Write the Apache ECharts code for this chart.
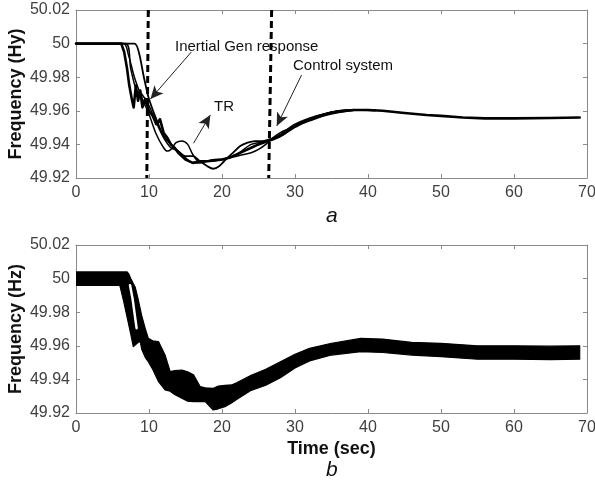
<!DOCTYPE html>
<html>
<head>
<meta charset="utf-8">
<script src="https://cdn.jsdelivr.net/npm/echarts@6/dist/echarts.min.js"></script>
<style>html,body{margin:0;padding:0;background:#fff}#c{width:595px;height:484px}</style>
</head>
<body>
<div id="c"></div>
<script>
// ---------- data ----------
const xTicks = [0, 10, 20, 30, 40, 50, 60, 70];
const yTicks = [49.92, 49.94, 49.96, 49.98, 50, 50.02];

// panel a: individual responses
const aTimeA = [0, 6.2, 6.6, 7.0, 7.3, 7.6, 7.9, 8.2, 8.5, 8.8, 9.1, 9.5, 10, 10.5, 11, 11.5, 12, 12.5, 13, 13.5, 14, 15, 16, 17, 18, 19, 20, 21, 22, 23, 24, 25, 26, 27, 28, 30, 32, 35, 38, 40, 42, 45, 48, 50, 53, 56, 60, 65, 69];
const aFreqA = [50, 50, 49.995, 49.985, 49.975, 49.968, 49.962, 49.975, 49.966, 49.972, 49.962, 49.967, 49.96, 49.957, 49.952, 49.955, 49.947, 49.944, 49.94, 49.938, 49.935, 49.931, 49.929, 49.93, 49.93, 49.9305, 49.931, 49.932, 49.934, 49.936, 49.938, 49.94, 49.9415, 49.943, 49.945, 49.9505, 49.955, 49.959, 49.9605, 49.9605, 49.96, 49.9587, 49.9575, 49.957, 49.956, 49.9555, 49.9555, 49.9557, 49.956];

const aTimeB = [0, 6.5, 7.2, 8, 9, 10, 11, 12, 12.5, 13, 13.7, 14.5, 15.3, 16, 16.8, 18, 20, 22, 24, 26, 28, 30, 33, 36, 38, 41];
const aFreqB = [50, 50, 49.993, 49.98, 49.968, 49.958, 49.946, 49.938, 49.936, 49.937, 49.941, 49.942, 49.94, 49.934, 49.93, 49.93, 49.931, 49.934, 49.94, 49.942, 49.946, 49.952, 49.957, 49.96, 49.9605, 49.9602];

const aTimeC = [0, 8.0, 8.6, 9.3, 10, 11, 12, 13, 14, 15, 16, 17, 18, 18.8, 19.6, 20.5, 21.5, 22.5, 23.5, 24.5, 25.5, 26.5, 27.5, 28.5, 30, 32, 34, 36, 38, 41];
const aFreqC = [50, 50, 49.995, 49.98, 49.967, 49.955, 49.945, 49.94, 49.936, 49.933, 49.933, 49.93, 49.927, 49.9255, 49.927, 49.931, 49.935, 49.939, 49.941, 49.942, 49.942, 49.943, 49.944, 49.946, 49.951, 49.955, 49.958, 49.96, 49.9605, 49.9603];

const aTimeD = [0, 6.8, 7.5, 8.3, 9, 10, 11, 12, 13, 14, 15, 16, 17, 18, 19, 20, 21, 22, 23, 24, 25, 26, 27, 28, 29, 30, 32, 34, 36, 38];
const aFreqD = [50, 50, 49.985, 49.972, 49.97, 49.963, 49.953, 49.944, 49.938, 49.936, 49.932, 49.929, 49.929, 49.93, 49.931, 49.931, 49.932, 49.933, 49.934, 49.935, 49.937, 49.94, 49.944, 49.947, 49.949, 49.951, 49.954, 49.957, 49.959, 49.9602];

// dashed markers on panel a
const dash1Time = [9.9, 9.7];
const dash2Time = [26.8, 26.4];
const dashFreq = [50.02, 49.92];

// annotation arrows on panel a: [fromTime, fromFreq, toTime, toFreq]
const arrowInertial = [15.8, 49.995, 10.2, 49.967];
const arrowTR = [16.1, 49.9407, 18.4, 49.9575];
const arrowControl = [30.9, 49.9813, 27.5, 49.951];

// panel b: measured noisy response, read as an upper / lower envelope
const bTime  = [0, 6.0, 6.5, 7.0, 7.2, 7.5, 7.85, 8.1, 8.5, 8.8, 9.0, 9.5, 9.9, 10.5, 11.3, 12.2, 12.9, 13.5, 14.5, 15.3, 16.1, 17.0, 17.7, 18.8, 19.5, 20.4, 21.3, 22, 24, 26, 28, 30, 32, 35, 39, 42, 46, 50, 55, 60, 65, 69];
const bUpper = [50.004, 50.004, 50.004, 50.004, 50.003, 50.0, 49.997, 49.995, 49.988, 49.982, 49.978, 49.97, 49.9645, 49.963, 49.9625, 49.9545, 49.9446, 49.9452, 49.9456, 49.9445, 49.9427, 49.9357, 49.935, 49.9347, 49.936, 49.9365, 49.9367, 49.938, 49.9425, 49.946, 49.9505, 49.955, 49.9585, 49.9615, 49.9644, 49.964, 49.962, 49.9615, 49.96, 49.96, 49.9598, 49.96];
const bLower = [49.996, 49.996, 49.987, 49.977, 49.973, 49.967, 49.9595, 49.9605, 49.962, 49.9625, 49.958, 49.953, 49.9506, 49.946, 49.9387, 49.9337, 49.933, 49.931, 49.9288, 49.927, 49.9268, 49.9268, 49.9268, 49.9218, 49.9225, 49.9238, 49.926, 49.928, 49.9335, 49.9365, 49.941, 49.9468, 49.951, 49.9545, 49.9565, 49.956, 49.9545, 49.9535, 49.952, 49.952, 49.9518, 49.952];
// thin white gap between the two early strands of panel b
const bGapTime = [7.4, 7.75, 8.3];
const bGapFreq = [49.996, 49.988, 49.9705];

// ---------- chart ----------
const FONT = 'Liberation Sans, Arial, Helvetica, sans-serif';
const zip = (t, v) => t.map((x, i) => [x, v[i]]);
const fmtY = v => String(parseFloat(Number(v).toFixed(2)));

function xAx(grid, pos, showLabels, name) {
  return {
    type: 'value', gridIndex: grid, position: pos, min: xTicks[0], max: xTicks[xTicks.length - 1], interval: 10,
    axisLine: { show: true, onZero: false, lineStyle: { color: '#8a8a8a', width: 1 } },
    axisTick: { show: true, inside: true, length: 4, lineStyle: { color: '#8a8a8a' } },
    axisLabel: { show: showLabels, color: '#404040', fontSize: 16, fontFamily: FONT, margin: 7 },
    splitLine: { show: false },
    name: name || '', nameLocation: 'middle', nameGap: 27, nameMoveOverlap: false,
    nameTextStyle: { color: '#111', fontSize: 18, fontWeight: 'bold', fontFamily: FONT }
  };
}
function yAx(grid, pos, showLabels, name) {
  return {
    type: 'value', gridIndex: grid, position: pos, min: yTicks[0], max: yTicks[yTicks.length - 1], interval: 0.02,
    axisLine: { show: true, onZero: false, lineStyle: { color: '#8a8a8a', width: 1 } },
    axisTick: { show: true, inside: true, length: 4, lineStyle: { color: '#8a8a8a' } },
    axisLabel: { show: showLabels, color: '#404040', fontSize: 16, fontFamily: FONT, margin: 6, formatter: fmtY },
    splitLine: { show: false },
    name: name || '', nameLocation: 'middle', nameGap: 51, nameRotate: 90, nameMoveOverlap: false,
    nameTextStyle: { color: '#111', fontSize: 18, fontWeight: 'bold', fontFamily: FONT }
  };
}

function line(data, width, xi, yi, smooth) {
  return {
    type: 'line', data: data, xAxisIndex: xi, yAxisIndex: yi, showSymbol: false, symbol: 'none',
    smooth: smooth || false, silent: true,
    lineStyle: { color: '#000', width: width, cap: 'round', join: 'round' }
  };
}
function arrow(a) {
  return [{ coord: [a[0], a[1]], symbol: 'none' }, { coord: [a[2], a[3]], symbol: 'arrow', symbolSize: [9, 13] }];
}

const series = [
  line(zip(aTimeD, aFreqD), 1.5, 0, 0, 0.3),
  line(zip(aTimeC, aFreqC), 1.8, 0, 0, 0.3),
  line(zip(aTimeB, aFreqB), 1.5, 0, 0, 0.3),
  Object.assign(line(zip(aTimeA, aFreqA), 2.6, 0, 0, false), {
    markLine: {
      silent: true, animation: false, symbol: ['none', 'arrow'], symbolSize: [9, 13],
      label: { show: false },
      lineStyle: { color: '#222', width: 1, type: 'solid' },
      data: [arrow(arrowInertial), arrow(arrowTR), arrow(arrowControl)]
    }
  }),
  { type: 'line', xAxisIndex: 0, yAxisIndex: 0, data: zip(dash1Time, dashFreq), symbol: 'none', silent: true,
    lineStyle: { color: '#000', width: 3, type: [7, 4] } },
  { type: 'line', xAxisIndex: 0, yAxisIndex: 0, data: zip(dash2Time, dashFreq), symbol: 'none', silent: true,
    lineStyle: { color: '#000', width: 3, type: [7, 4] } },
  // panel b envelope, drawn as one polygon through the axes' scales
  {
    type: 'custom', xAxisIndex: 2, yAxisIndex: 2, silent: true, clip: true,
    data: bTime.map((t, i) => [t, bLower[i], bUpper[i]]),
    encode: { x: 0, y: [1, 2] },
    renderItem: function (params, api) {
      if (params.dataIndex !== 0) return null;
      const pts = [];
      for (let i = 0; i < bTime.length; i++) pts.push(api.coord([bTime[i], bUpper[i]]));
      for (let i = bTime.length - 1; i >= 0; i--) pts.push(api.coord([bTime[i], bLower[i]]));
      return { type: 'polygon', shape: { points: pts }, style: { fill: '#000', stroke: '#000', lineWidth: 1.2, lineJoin: 'round' } };
    }
  },
  { type: 'line', xAxisIndex: 2, yAxisIndex: 2, data: zip(bGapTime, bGapFreq), symbol: 'none', silent: true, z: 5,
    lineStyle: { color: '#fff', width: 2.5, cap: 'round' } }
];

const chart = echarts.init(document.getElementById('c'), null, { renderer: 'canvas' });
chart.setOption({
  animation: false,
  backgroundColor: '#fff',
  grid: [
    { left: 76, right: 8, top: 10, height: 168, outerBoundsMode: 'none', containLabel: false },
    { left: 76, right: 8, top: 245, height: 168, outerBoundsMode: 'none', containLabel: false }
  ],
  xAxis: [xAx(0, 'bottom', true), xAx(0, 'top', false), xAx(1, 'bottom', true, 'Time (sec)'), xAx(1, 'top', false)],
  yAxis: [yAx(0, 'left', true, 'Frequency (Hy)'), yAx(0, 'right', false), yAx(1, 'left', true, 'Frequency (Hz)'), yAx(1, 'right', false)],
  series: series,
  graphic: [
    { type: 'text', left: 175, top: 39, style: { text: 'Inertial Gen response', font: '15px ' + FONT, fill: '#111' } },
    { type: 'text', left: 293, top: 58, style: { text: 'Control system', font: '15px ' + FONT, fill: '#111' } },
    { type: 'text', left: 214, top: 99, style: { text: 'TR', font: '15px ' + FONT, fill: '#111' } },
    { type: 'text', left: 326, top: 206, style: { text: 'a', font: 'italic 21px ' + FONT, fill: '#111' } },
    { type: 'text', left: 326, top: 460, style: { text: 'b', font: 'italic 21px ' + FONT, fill: '#111' } }
  ]
});
</script>
</body>
</html>
